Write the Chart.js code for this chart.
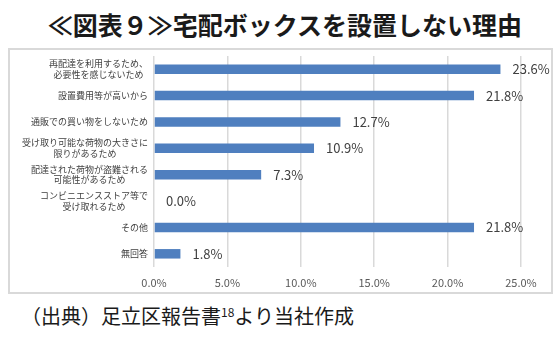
<!DOCTYPE html>
<html>
<head>
<meta charset="utf-8">
<script src="https://cdn.jsdelivr.net/npm/chart.js@4/dist/chart.umd.min.js"></script>
<style>
  html, body { margin: 0; padding: 0; background: #ffffff; }
  body { width: 559px; height: 352px; position: relative; overflow: hidden; font-family: "Noto Sans CJK JP", sans-serif; }
  #title { position: absolute; left: 0; top: 6px; width: 570px; text-align: center; font-size: 25px; font-weight: bold; color: #1a1a1a; line-height: 36px; white-space: nowrap; }
  #box { position: absolute; left: 8px; top: 48px; width: 541px; height: 242px; border: 2px solid #d9d9d9; }
  #source { position: absolute; left: 21px; top: 302px; font-size: 20px; color: #1a1a1a; line-height: 28px; white-space: nowrap; }
  #source sup { font-size: 12px; vertical-align: 7px; line-height: 0; }
  #wrap { position: absolute; left: 0; top: 0; width: 559px; height: 352px; }
</style>
</head>
<body>
<div id="title">≪図表９≫宅配ボックスを設置しない理由</div>
<div id="box"></div>
<div id="source">（出典）足立区報告書<sup>18</sup>より当社作成</div>
<div id="wrap"><canvas id="c" width="559" height="352"></canvas></div>
<script>
const categories = [
  ["再配達を利用するため、", "必要性を感じないため"],
  ["設置費用等が高いから"],
  ["通販での買い物をしないため"],
  ["受け取り可能な荷物の大きさに", "限りがあるため"],
  ["配達された荷物が盗難される", "可能性があるため"],
  ["コンビニエンスストア等で", "受け取れるため"],
  ["その他"],
  ["無回答"]
];
const values = [23.6, 21.8, 12.7, 10.9, 7.3, 0.0, 21.8, 1.8];
const xTicks = [0, 5, 10, 15, 20, 25];

const labelFont = '9px "Noto Sans CJK JP", sans-serif';
const valueFont = '13px "Noto Sans CJK JP", sans-serif';

const categoryLabelsPlugin = {
  id: 'categoryLabels',
  afterDraw(chart) {
    const ctx = chart.ctx;
    const yScale = chart.scales.y;
    const right = chart.chartArea.left - 6;
    ctx.save();
    ctx.font = labelFont;
    ctx.fillStyle = '#404040';
    ctx.textAlign = 'center';
    ctx.textBaseline = 'middle';
    const lh = 10.5;
    categories.forEach((lines, i) => {
      const y = yScale.getPixelForValue(i);
      let maxW = 0;
      lines.forEach(l => { maxW = Math.max(maxW, ctx.measureText(l).width); });
      const cx = right - maxW / 2;
      const startY = y - (lines.length - 1) * lh / 2;
      lines.forEach((l, k) => ctx.fillText(l, cx, startY + k * lh));
    });
    ctx.restore();
  }
};

const valueLabelsPlugin = {
  id: 'valueLabels',
  afterDatasetsDraw(chart) {
    const ctx = chart.ctx;
    const meta = chart.getDatasetMeta(0);
    ctx.save();
    ctx.font = valueFont;
    ctx.fillStyle = '#404040';
    ctx.textAlign = 'left';
    ctx.textBaseline = 'middle';
    meta.data.forEach((bar, i) => {
      ctx.fillText(values[i].toFixed(1) + '%', bar.x + 12, bar.y);
    });
    ctx.restore();
  }
};

new Chart(document.getElementById('c'), {
  type: 'bar',
  data: {
    labels: categories.map(l => l.join('')),
    datasets: [{
      data: values,
      backgroundColor: '#4f7fbf',
      borderWidth: 0,
      categoryPercentage: 1.0,
      barPercentage: 0.36
    }]
  },
  options: {
    indexAxis: 'y',
    responsive: false,
    animation: false,
    events: [],
    layout: { padding: { left: 0, top: 56, right: 38, bottom: 60 } },
    plugins: { legend: { display: false }, tooltip: { enabled: false }, title: { display: false } },
    scales: {
      x: {
        min: 0, max: 25,
        afterBuildTicks(scale) { scale.ticks = xTicks.map(v => ({ value: v })); },
        afterFit(scale) { scale.height = 25; },
        grid: { color: '#d9d9d9', lineWidth: 1.5, drawTicks: false },
        border: { display: false },
        ticks: {
          padding: 9,
          color: '#595959',
          font: { family: '"Noto Sans CJK JP", sans-serif', size: 11 },
          callback: v => Number(v).toFixed(1) + '%'
        }
      },
      y: {
        afterFit(scale) { scale.width = 154; },
        grid: { display: false, drawTicks: false },
        border: { display: false },
        ticks: { display: false }
      }
    }
  },
  plugins: [categoryLabelsPlugin, valueLabelsPlugin]
});
</script>
</body>
</html>
